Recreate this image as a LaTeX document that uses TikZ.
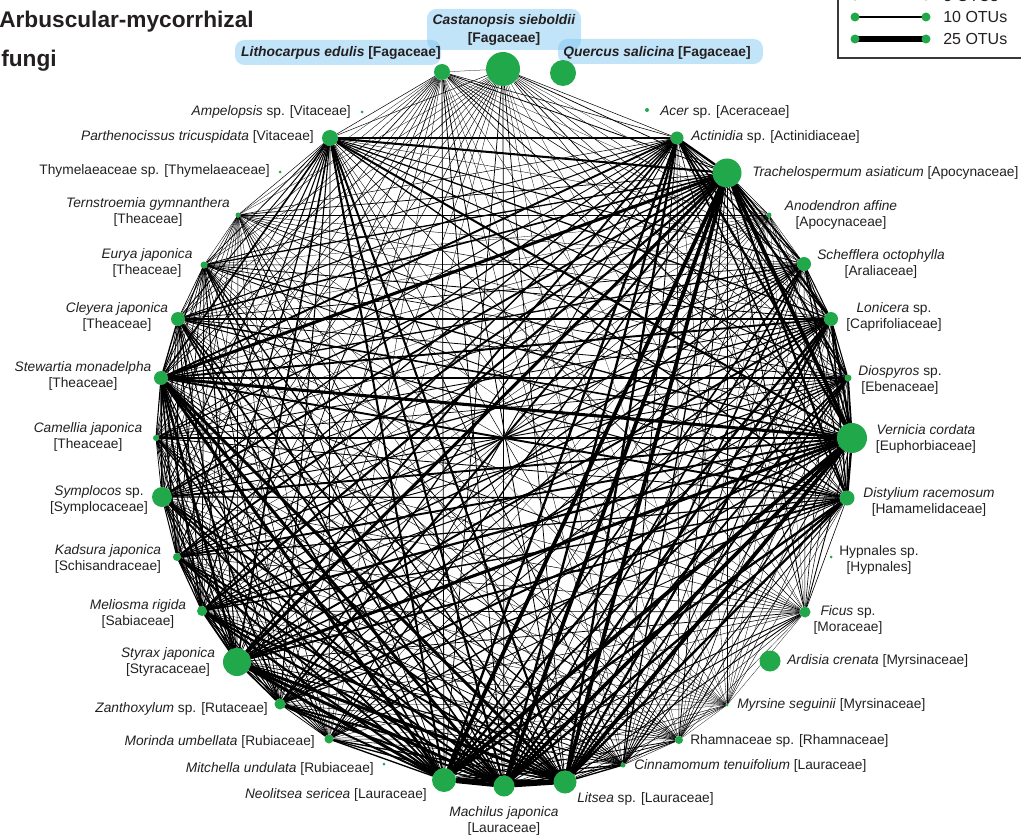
\documentclass[tikz,border=0pt]{standalone}
\usepackage{fontspec}
\setmainfont{Liberation Sans}
\definecolor{ngreen}{RGB}{33,168,75}
\definecolor{fagblue}{RGB}{120,195,240}
\definecolor{txt}{RGB}{35,31,32}
\definecolor{boxgray}{RGB}{60,55,55}
\pgfdeclarelayer{bg}
\pgfdeclarelayer{edges}
\pgfsetlayers{bg,edges,main}
\begin{document}
\begin{tikzpicture}[x=0.75pt,y=-0.75pt,
  nd/.style={circle,fill=ngreen,draw=none,inner sep=0pt,minimum size=#1*1.5pt},
  lab/.style={font=\fontsize{10.3}{12.5}\selectfont, text=txt, inner sep=0pt, align=center},
  fag/.style={font=\bfseries\fontsize{10.4}{13.5}\selectfont, text=txt, inner sep=0pt, align=center},
  fagbox/.style={fill=fagblue, fill opacity=0.45, rounded corners=7pt, draw=none},
  edgeline/.style={draw=black, line cap=round},
  legtxt/.style={font=\fontsize{12}{14}\selectfont, text=txt, inner sep=0pt, anchor=west},
  titletxt/.style={font=\bfseries\fontsize{17}{20}\selectfont, text=txt, inner sep=0pt, anchor=base west}]
\useasboundingbox (0,0) rectangle (1021,838);
\clip (0,0) rectangle (1021,838);

% ---------- Fagaceae highlight boxes ----------
\begin{pgfonlayer}{bg}
  \fill[fagbox] (235,40) rectangle (441,65);
  \fill[fagbox] (427,9) rectangle (581,50);
  \fill[fagbox] (558,39) rectangle (763,64);
\end{pgfonlayer}

% ---------- plant nodes ----------
\node[nd=8]   (lith) at (442,72) {};
\node[nd=17]  (cast) at (503,69) {};
\node[nd=13]  (quer) at (563,73) {};
\node[nd=2]   (acer) at (647,110) {};
\node[nd=6.5] (acti) at (677,138) {};
\node[nd=14.5](trac) at (727,173) {};
\node[nd=2.5] (anod) at (769,215) {};
\node[nd=7]   (sche) at (804,264) {};
\node[nd=7]   (loni) at (831,319) {};
\node[nd=3.5] (dios) at (848,378) {};
\node[nd=15]  (vern) at (852,438) {};
\node[nd=7.5] (dist) at (847,498) {};
\node[nd=1.5] (hypn) at (831,557) {};
\node[nd=5.5] (ficu) at (805,612) {};
\node[nd=10.5](ardi) at (770,661) {};
\node[nd=1.5] (myrs) at (727,705) {};
\node[nd=4]   (rham) at (679,740) {};
\node[nd=2.5] (cinn) at (623,765) {};
\node[nd=11.5](lits) at (565,782) {};
\node[nd=10.5](mach) at (504,786) {};
\node[nd=12]  (neol) at (444,780) {};
\node[nd=1.5] (mitc) at (384,764) {};
\node[nd=4.5] (mori) at (329,739) {};
\node[nd=5.5] (zant) at (280,704) {};
\node[nd=14]  (styr) at (237,662) {};
\node[nd=5]   (meli) at (202,611) {};
\node[nd=4]   (kads) at (177,557) {};
\node[nd=10]  (symp) at (162,497) {};
\node[nd=3]   (came) at (156,438) {};
\node[nd=7]   (stew) at (161,378) {};
\node[nd=7]   (cley) at (178,319) {};
\node[nd=3.5] (eury) at (204,265) {};
\node[nd=2.5] (tern) at (238,215) {};
\node[nd=1.5] (thym) at (280,172) {};
\node[nd=8]   (part) at (330,138) {};
\node[nd=1.5] (ampe) at (362,112) {};

% ---------- shared-OTU connectors ----------
\def\slist{lith/0.9,cast/0.8,acti/3,trac/5,anod/0.5,sche/2,loni/3,dios/2.2,vern/5,dist/3,ficu/1,myrs/0.4,rham/0.9,cinn/1.6,lits/5,mach/5,neol/5,mori/1.6,zant/2.5,styr/4,meli/2.8,kads/2.4,symp/2.4,came/1.6,stew/4,cley/2,eury/1.6,tern/0.8,part/2.6}
\begin{pgfonlayer}{edges}
\foreach \a/\sa [count=\i] in \slist {
  \foreach \b/\sb [count=\j] in \slist {
    \ifnum\j>\i
      \pgfmathsetmacro\w{0.12+0.11*\sa*\sb}
      \draw[edgeline, line width=\w pt] (\a) -- (\b);
    \fi
  }
}
\end{pgfonlayer}

% ---------- title ----------
\node[titletxt] (title1) at (-1,28) {Arbuscular-mycorrhizal};
\node[titletxt] (title2) at (1,67) {fungi};

% ---------- legend ----------
\draw[boxgray, line width=1.2pt] (838,-30) rectangle (1040,58);
\node[nd=4.5] (lg1a) at (855,-4) {};
\node[nd=4.5] (lg1b) at (926,-4) {};
\node[nd=4.5] (lg2a) at (855,17) {};
\node[nd=4.5] (lg2b) at (926,17) {};
\node[nd=4.5] (lg3a) at (855,39) {};
\node[nd=4.5] (lg3b) at (926,39) {};
\begin{pgfonlayer}{edges}
  \draw[black, line width=0.8pt] (lg1a.center) -- (lg1b.center);
  \draw[black, line width=1.6pt] (lg2a.center) -- (lg2b.center);
  \draw[black, line width=5pt] (lg3a.center) -- (lg3b.center);
\end{pgfonlayer}
\node[legtxt] (lt1) at (943,-4) {5 OTUs};
\node[legtxt] (lt2) at (943,17) {10 OTUs};
\node[legtxt] (lt3) at (943,39) {25 OTUs};

% ---------- labels ----------
\node[fag] (l-lith) at (341,53) {\textit{Lithocarpus edulis} [Fagaceae]};
\node[fag] (l-cast) at (504,30) {\textit{Castanopsis sieboldii}\\{[Fagaceae]}};
\node[fag] (l-quer) at (657,53) {\textit{Quercus salicina} [Fagaceae]};

\node[lab, anchor=east] (l-ampe) at (351,112) {\textit{Ampelopsis} sp. [Vitaceae]};
\node[lab, anchor=west] (l-acer) at (660,112) {\textit{Acer} sp. [Aceraceae]};
\node[lab, anchor=east] (l-part) at (314,137) {\textit{Parthenocissus tricuspidata} [Vitaceae]};
\node[lab, anchor=west] (l-acti) at (691,137) {\textit{Actinidia} sp. [Actinidiaceae]};
\node[lab, anchor=east] (l-thym) at (270,171) {Thymelaeaceae sp. [Thymelaeaceae]};
\node[lab, anchor=west] (l-trac) at (752,173) {\textit{Trachelospermum asiaticum} [Apocynaceae]};

\node[lab] (l-tern) at (148,212) {\textit{Ternstroemia gymnanthera}\\{[Theaceae]}};
\node[lab] (l-eury) at (147,263) {\textit{Eurya japonica}\\{[Theaceae]}};
\node[lab] (l-cley) at (117,317) {\textit{Cleyera japonica}\\{[Theaceae]}};
\node[lab] (l-stew) at (83,376) {\textit{Stewartia monadelpha}\\{[Theaceae]}};
\node[lab] (l-came) at (88,437) {\textit{Camellia japonica}\\{[Theaceae]}};
\node[lab] (l-symp) at (99,500) {\textit{Symplocos} sp.\\{[Symplocaceae]}};
\node[lab] (l-kads) at (108,559) {\textit{Kadsura japonica}\\{[Schisandraceae]}};
\node[lab] (l-meli) at (138,614) {\textit{Meliosma rigida}\\{[Sabiaceae]}};
\node[lab] (l-styr) at (168,662) {\textit{Styrax japonica}\\{[Styracaceae]}};

\node[lab] (l-anod) at (841,215) {\textit{Anodendron affine}\\{[Apocynaceae]}};
\node[lab] (l-sche) at (881,264) {\textit{Schefflera octophylla}\\{[Araliaceae]}};
\node[lab] (l-loni) at (894,317) {\textit{Lonicera} sp.\\{[Caprifoliaceae]}};
\node[lab] (l-dios) at (900,380) {\textit{Diospyros} sp.\\{[Ebenaceae]}};
\node[lab] (l-vern) at (926,439) {\textit{Vernicia cordata}\\{[Euphorbiaceae]}};
\node[lab] (l-dist) at (929,502) {\textit{Distylium racemosum}\\{[Hamamelidaceae]}};
\node[lab] (l-hypn) at (879,560) {Hypnales sp.\\{[Hypnales]}};
\node[lab] (l-ficu) at (848,620) {\textit{Ficus} sp.\\{[Moraceae]}};
\node[lab, anchor=west] (l-ardi) at (787,661) {\textit{Ardisia crenata} [Myrsinaceae]};
\node[lab, anchor=west] (l-myrs) at (737,705) {\textit{Myrsine seguinii} [Myrsinaceae]};
\node[lab, anchor=west] (l-rham) at (690,741) {Rhamnaceae sp. [Rhamnaceae]};
\node[lab, anchor=west] (l-cinn) at (634,766) {\textit{Cinnamomum tenuifolium} [Lauraceae]};
\node[lab, anchor=west] (l-lits) at (577,799) {\textit{Litsea} sp. [Lauraceae]};
\node[lab] (l-mach) at (504,821) {\textit{Machilus japonica}\\{[Lauraceae]}};
\node[lab, anchor=east] (l-neol) at (427,795) {\textit{Neolitsea sericea} [Lauraceae]};
\node[lab, anchor=east] (l-mitc) at (374,769) {\textit{Mitchella undulata} [Rubiaceae]};
\node[lab, anchor=east] (l-mori) at (315,742) {\textit{Morinda umbellata} [Rubiaceae]};
\node[lab, anchor=east] (l-zant) at (268,709) {\textit{Zanthoxylum} sp. [Rutaceae]};
\end{tikzpicture}
\end{document}
